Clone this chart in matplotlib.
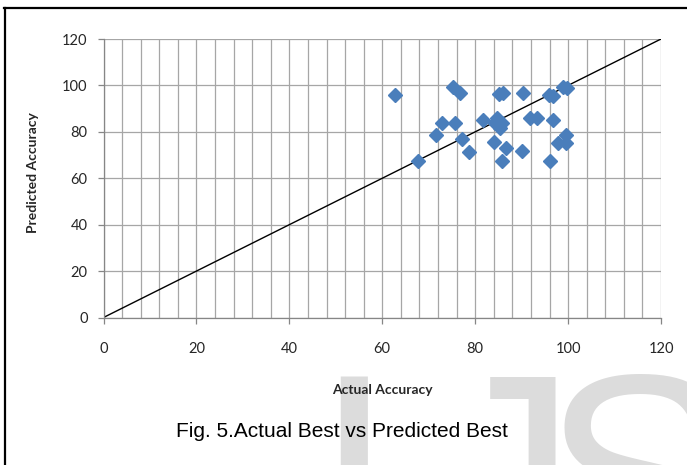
import matplotlib
matplotlib.use("Agg")
import matplotlib.pyplot as plt
from matplotlib.ticker import MultipleLocator
from matplotlib.lines import Line2D

actual = [62.8, 75.3, 76.7, 85.2, 86.0, 90.3, 95.9, 96.7, 98.9, 99.8,
          72.8, 75.7, 71.5, 67.6, 77.1, 78.6, 81.6, 84.7, 84.3, 85.8,
          85.4, 84.0, 86.6, 85.8, 90.1, 91.9, 93.3, 96.8, 96.2, 97.8,
          99.5, 99.6]
predicted = [96.0, 99.3, 96.8, 96.2, 96.7, 96.8, 95.9, 95.6, 99.4, 98.8,
             84.0, 84.0, 78.7, 67.6, 76.8, 71.5, 85.0, 86.0, 84.0, 83.8,
             81.5, 75.5, 73.0, 67.6, 71.6, 85.8, 85.8, 85.3, 67.6, 75.4,
             75.2, 78.8]
diag = [0, 120]
ticks = [0, 20, 40, 60, 80, 100, 120]

W, H = 687, 465
fig = plt.figure(figsize=(W / 100, H / 100), dpi=100)
fig.patch.set_facecolor("white")

L, R, T, B = 103.5, 661, 39, 317.5
ax = fig.add_axes([L / W, 1 - B / H, (R - L) / W, (B - T) / H])

grid_c = "#a6a6a6"
ax.set_xlim(0, 120)
ax.set_ylim(0, 120)
ax.xaxis.set_major_locator(MultipleLocator(20))
ax.xaxis.set_minor_locator(MultipleLocator(4))
ax.yaxis.set_major_locator(MultipleLocator(20))
ax.grid(True, which="both", axis="x", color=grid_c, lw=0.9)
ax.grid(True, which="major", axis="y", color=grid_c, lw=0.9)
ax.set_axisbelow(True)

for s in ["top", "right"]:
    ax.spines[s].set_visible(False)
for s in ["left", "bottom"]:
    ax.spines[s].set_color("#868686")
    ax.spines[s].set_linewidth(0.9)

ax.tick_params(axis="both", which="major", direction="out", length=4.5,
               color="#868686", width=0.9, labelsize=10.5, labelcolor="#262626")
ax.tick_params(axis="both", which="minor", length=0)
ax.tick_params(axis="x", pad=13)
ax.tick_params(axis="y", pad=7)
ax.set_xticks(ticks)
ax.set_yticks(ticks)
for lab in ax.get_xticklabels() + ax.get_yticklabels():
    lab.set_fontfamily("Lato")

ax.plot(diag, diag, color="black", lw=1.0, zorder=2)
ax.plot(actual, predicted, linestyle="none", marker="D", ms=6.8,
        color="#4a7ebb", mec="#4a7ebb", zorder=3)

ax.set_xlabel("Actual Accuracy", fontfamily="Lato", fontweight="bold",
              fontsize=10, color="#262626")
ax.set_ylabel("Predicted Accuracy", fontfamily="Lato", fontweight="bold",
              fontsize=10, color="#262626")
ax.xaxis.set_label_coords(0.4996, -0.239)
ax.yaxis.set_label_coords(-0.1157, 0.52)

# watermark (letters placed individually)
wm_base = 1 - 576 / H
for txt, xpx in [("I", 313), ("J", 431.6), ("SER", 541.6)]:
    fig.text(xpx / W, wm_base, txt, fontfamily="Liberation Sans",
             fontsize=209, color="#dcdcdc", ha="left", va="baseline",
             zorder=-5)

fig.text(342 / W, 1 - 431 / H, "Fig. 5.Actual Best vs Predicted Best",
         fontfamily="Liberation Sans", fontsize=15, color="black",
         ha="center", va="center")

# frame
fig.add_artist(Line2D([4 / W, 1.0], [1 - 8 / H, 1 - 8 / H],
                      transform=fig.transFigure, color="black", lw=1.6))
fig.add_artist(Line2D([5 / W, 5 / W], [0, 1 - 8 / H],
                      transform=fig.transFigure, color="black", lw=1.6))

fig.savefig("out.png", dpi=100)
